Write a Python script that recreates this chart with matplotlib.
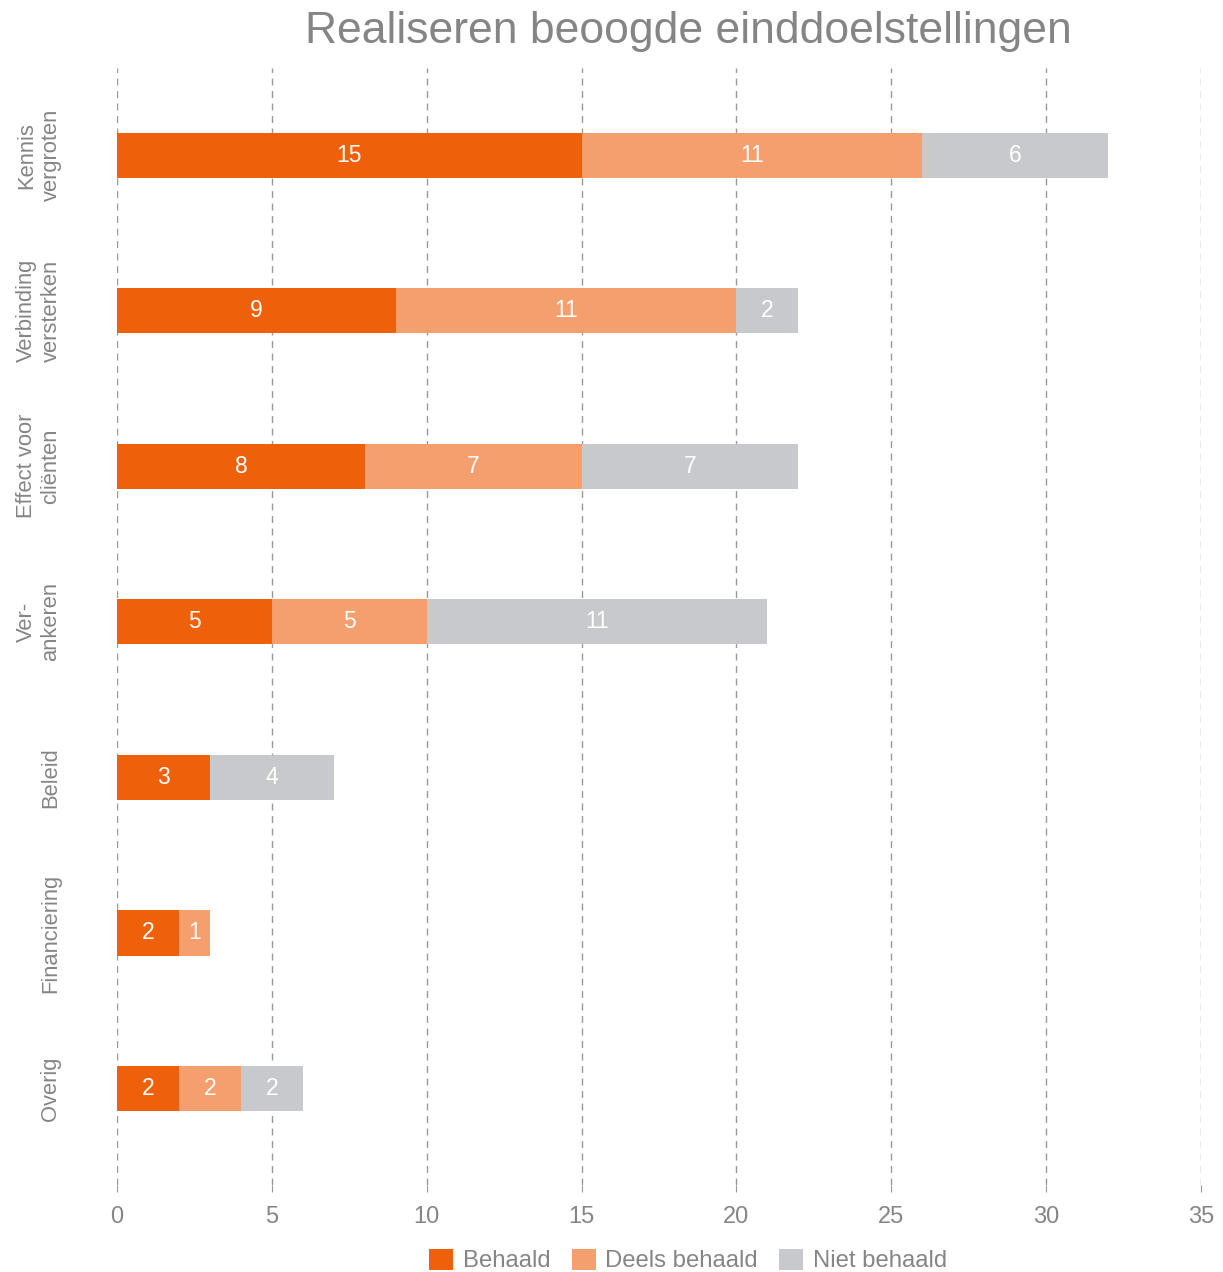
import numpy as np
import matplotlib
matplotlib.use('Agg')
import matplotlib.pyplot as plt
from matplotlib.patches import Patch

plt.rcParams['font.family'] = ['Liberation Sans', 'DejaVu Sans']

# Data per einddoelstelling
categories = ['Kennis\nvergroten', 'Verbinding\nversterken', 'Effect voor\ncliënten',
              'Ver-\nankeren', 'Beleid', 'Financiering', 'Overig']
behaald = [15, 9, 8, 5, 3, 2, 2]
deels_behaald = [11, 11, 7, 5, 0, 1, 2]
niet_behaald = [6, 2, 7, 11, 4, 0, 2]

series_names = ['Behaald', 'Deels behaald', 'Niet behaald']
colors = ['#EF600B', '#F59E6E', '#C8C9CC']
grey = '#858585'

fig = plt.figure(figsize=(12.23, 12.72), dpi=100)
ax = fig.add_axes([0.0957, 0.0684, 0.8863, 0.8781])

y = np.arange(len(categories))
left = np.zeros(len(categories))
for vals, col in zip([behaald, deels_behaald, niet_behaald], colors):
    vals = np.array(vals, dtype=float)
    ax.barh(y, vals, left=left, height=0.29, color=col, zorder=3)
    for yi, l, v in zip(y, left, vals):
        if v > 0:
            ax.text(l + v / 2, yi, f'{int(v)}', ha='center', va='center',
                    color='white', fontsize=16.5, zorder=4)
    left += vals

ax.set_xlim(0, 35)
ax.set_ylim(6.62, -0.56)
ax.set_xticks(np.arange(0, 36, 5))
ax.set_yticks(y)
ax.set_yticklabels(categories, rotation=90, va='center', ha='right',
                   multialignment='center', fontsize=15.8, color=grey,
                   linespacing=1.2)
ax.tick_params(axis='y', length=0, pad=40)
ax.tick_params(axis='x', length=5, color='#999999', labelsize=17,
               labelcolor=grey, pad=10)
for s in ax.spines.values():
    s.set_visible(False)
ax.xaxis.grid(True, color='#999999', linestyle=(0, (5, 4)), linewidth=1, zorder=0)

fig.text(0.5625, 0.975, 'Realiseren beoogde einddoelstellingen', ha='center',
         va='center', fontsize=32, color=grey)

handles = [Patch(facecolor=c, edgecolor='none') for c in colors]
fig.legend(handles, series_names, loc='center', bbox_to_anchor=(0.5625, 0.009),
           ncol=3, frameon=False, fontsize=17.2, labelcolor=grey,
           handlelength=1.0, handleheight=1.0, handletextpad=0.4, columnspacing=0.9)

fig.savefig('out.png', dpi=100)
